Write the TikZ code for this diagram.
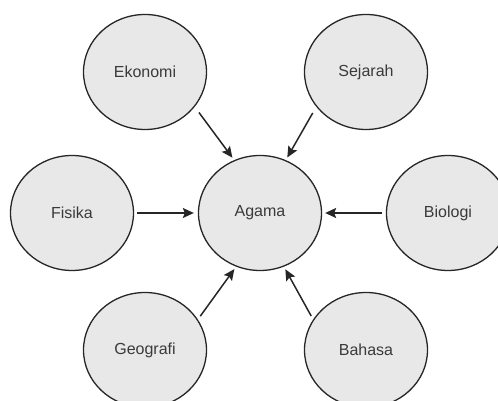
\documentclass[tikz,border=0pt]{standalone}
\usepackage{fontspec}
\setmainfont{Liberation Sans}
\definecolor{bubbleFill}{HTML}{E8E8E8}
\definecolor{bubbleLine}{HTML}{262626}
\definecolor{bubbleText}{HTML}{3A3A3A}
\usetikzlibrary{arrows.meta,shapes.geometric}

\begin{document}
\begin{tikzpicture}[x=1pt,y=1pt,
    subject/.style={ellipse, draw=bubbleLine, line width=1.3pt, fill=bubbleFill,
      minimum width=123pt, minimum height=115pt, inner sep=0pt,
      font=\fontsize{16}{18}\selectfont, text=bubbleText},
    feed/.style={-{Stealth[length=11pt,width=10pt,inset=2pt]}, line width=1.5pt, draw=bubbleLine}]
  % frame of the page
  \clip (0,0) rectangle (498,401);
  % centre subject
  \node[subject] (agama) at (260,188) {Agama};
  % surrounding subjects
  \node[subject] (ekonomi)  at (145,329) {Ekonomi};
  \node[subject] (sejarah)  at (366,329) {Sejarah};
  \node[subject] (fisika)   at (72,188)  {Fisika};
  \node[subject] (biologi)  at (448,188) {Biologi};
  \node[subject] (geografi) at (145,51)  {Geografi};
  \node[subject] (bahasa)   at (366,51)  {Bahasa};
  % arrows into the centre
  \draw[feed, shorten <=7pt, shorten >=3pt] (ekonomi.-35) -- (agama.116);
  \draw[feed, shorten <=7pt, shorten >=3pt] (sejarah.-145) -- (agama.64);
  \draw[feed, shorten <=3pt, shorten >=4pt] (fisika.east) -- (agama.west);
  \draw[feed, shorten <=4pt, shorten >=3pt] (biologi.west) -- (agama.east);
  \draw[feed, shorten <=4pt, shorten >=3pt] (geografi.30) -- (agama.-114);
  \draw[feed, shorten <=4pt, shorten >=3pt] (bahasa.150) -- (agama.-66);
\end{tikzpicture}
\end{document}
